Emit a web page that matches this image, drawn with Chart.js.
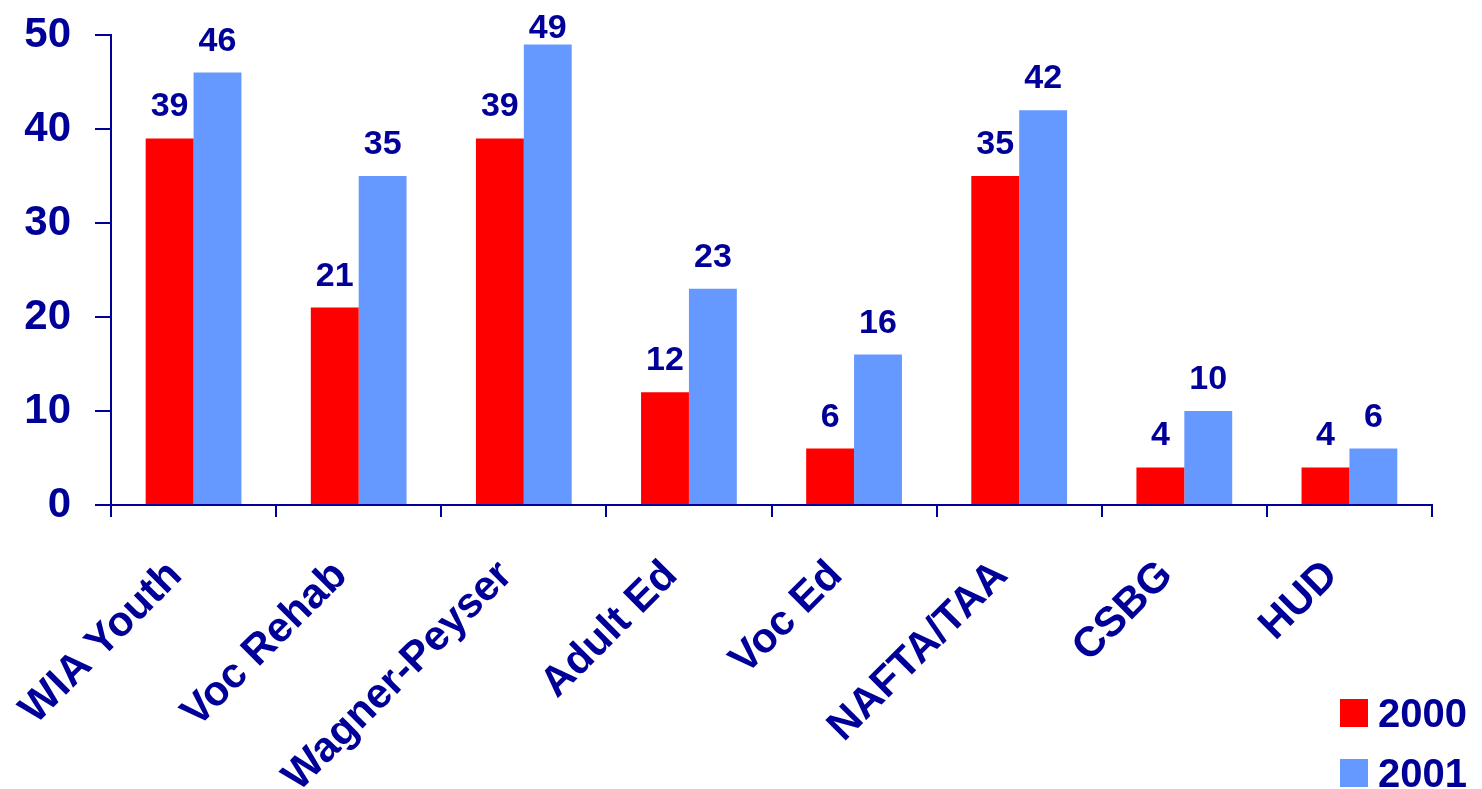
<!DOCTYPE html>
<html>
<head>
<meta charset="utf-8">
<script src="https://cdn.jsdelivr.net/npm/chart.js@4"></script>
<style>
    html, body { margin: 0; padding: 0; background: #ffffff; }
    #wrap { position: relative; width: 1482px; height: 789px; }
</style>
</head>
<body>
<div id="wrap"><canvas id="programChart"></canvas></div>
<script>
// Chart data
const programs = ["WIA Youth", "Voc Rehab", "Wagner-Peyser", "Adult Ed", "Voc Ed", "NAFTA/TAA", "CSBG", "HUD"];
const values2000 = [39, 21, 39, 12, 6, 35, 4, 4];
const values2001 = [46, 35, 49, 23, 16, 42, 10, 6];
const yTicks = [0, 10, 20, 30, 40, 50];

const navy = '#000099';
const fontFamily = '"Liberation Sans", Arial, sans-serif';

// numbers above each bar (kept inside the canvas when the bar is near the top)
const barValueLabels = {
    id: 'barValueLabels',
    afterDatasetsDraw(chart) {
        const ctx = chart.ctx;
        ctx.save();
        ctx.fillStyle = navy;
        ctx.font = 'bold 34px ' + fontFamily;
        ctx.textAlign = 'center';
        ctx.textBaseline = 'alphabetic';
        chart.data.datasets.forEach((ds, i) => {
            chart.getDatasetMeta(i).data.forEach((bar, j) => {
                ctx.fillText(ds.data[j], bar.x, Math.max(bar.y - 22, 38));
            });
        });
        ctx.restore();
    }
};

// legend in the lower right corner
const cornerLegend = {
    id: 'cornerLegend',
    afterDraw(chart) {
        const ctx = chart.ctx;
        ctx.save();
        ctx.font = 'bold 40px ' + fontFamily;
        ctx.textBaseline = 'alphabetic';
        ctx.textAlign = 'left';
        chart.data.datasets.forEach((ds, i) => {
            const top = 699 + i * 60;
            ctx.fillStyle = ds.backgroundColor;
            ctx.fillRect(1340, top, 28, 28);
            ctx.fillStyle = navy;
            ctx.fillText(ds.label, 1378, top + 28);
        });
        ctx.restore();
    }
};

const ctx = document.getElementById('programChart').getContext('2d');
new Chart(ctx, {
    type: 'bar',
    data: {
        labels: programs,
        datasets: [
            { label: '2000', data: values2000, backgroundColor: '#ff0000' },
            { label: '2001', data: values2001, backgroundColor: '#6699ff' }
        ]
    },
    options: {
        responsive: true,
        maintainAspectRatio: false,
        animation: false,
        categoryPercentage: 0.58,
        barPercentage: 1.0,
        layout: { padding: { top: 35, right: 50, left: 0, bottom: 0 } },
        scales: {
            x: {
                grid: {
                    drawOnChartArea: false,
                    drawTicks: true,
                    tickLength: 12,
                    color: navy,
                    lineWidth: 2,
                    offset: true
                },
                border: { color: navy, width: 2 },
                ticks: {
                    color: navy,
                    font: { family: fontFamily, size: 42, weight: 'bold' },
                    minRotation: 45,
                    maxRotation: 45,
                    padding: 34,
                    labelOffset: -18,
                    autoSkip: false
                },
                afterFit(scale) {
                    scale.height = 284;
                    scale.paddingLeft = 0;
                    scale.paddingRight = 0;
                }
            },
            y: {
                min: 0,
                max: 50,
                afterBuildTicks(scale) { scale.ticks = yTicks.map(v => ({ value: v })); },
                grid: {
                    drawOnChartArea: false,
                    drawTicks: true,
                    tickLength: 16,
                    color: navy,
                    lineWidth: 2
                },
                border: { color: navy, width: 2 },
                ticks: {
                    color: navy,
                    font: { family: fontFamily, size: 42, weight: 'bold' },
                    padding: 24
                },
                afterFit(scale) {
                    scale.width = 111;
                    scale.paddingTop = 0;
                    scale.paddingBottom = 0;
                }
            }
        },
        plugins: {
            legend: { display: false },
            tooltip: { enabled: false }
        }
    },
    plugins: [barValueLabels, cornerLegend]
});
</script>
</body>
</html>
